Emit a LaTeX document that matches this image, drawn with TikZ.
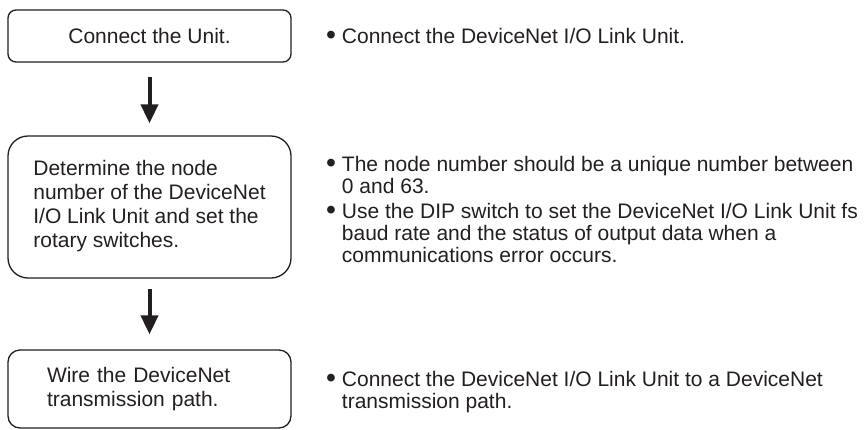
\documentclass[tikz,border=0pt]{standalone}
\usepackage{fontspec}
\usepackage{graphicx}
\setmainfont{Liberation Sans}
\usetikzlibrary{arrows.meta}
\definecolor{ink}{HTML}{231F20}
\newcommand\mybul{\raisebox{-0.09em}{\scalebox{1.35}{•}}\ }
\newcommand\myind{\hphantom{\mybul}}
\begin{document}
\begin{tikzpicture}[x=1pt,y=-1pt,
  font=\fontsize{21}{24}\selectfont, text=ink,
  box/.style={draw=ink, line width=1.3pt, minimum width=283pt, inner sep=0pt},
  flow/.style={draw=ink, line width=4pt, -{Triangle[length=19pt,width=17pt]}},
  note/.style={anchor=base west, align=left, inner sep=0pt, font=\fontsize{21}{22}\selectfont}]
\useasboundingbox (0,0) rectangle (866,429);
\node[box, rounded corners=8pt, minimum height=52pt] (b1) at (149.5,36) {Connect the Unit.};
\node[box, rounded corners=20pt, minimum height=142pt, align=left] (b2) at (149.5,207)
  {Determine the node\\number of the DeviceNet\\I/O Link Unit and set the\\rotary switches.\\[-18pt]};
\node[box, rounded corners=12pt, minimum height=78pt, align=left, text width=205pt, inner xsep=39pt] (b3) at (149.5,389)
  {Wire the DeviceNet\\transmission path.};
\draw[flow, shorten <=14pt, shorten >=12pt] (b1) -- (b2);
\draw[flow, shorten <=10pt, shorten >=15pt] (b2) -- (b3);
\node[note] (n1) at (326,43) {\mybul Connect the DeviceNet I/O Link Unit.};
\node[note] (n2) at (326,193) {\mybul The node number should be a unique number between\\\myind 0 and 63.};
\node[note] (n3) at (326,262) {\mybul Use the DIP switch to set the DeviceNet I/O Link Unit fs\\\myind baud rate and the status of output data when a\\\myind communications error occurs.};
\node[note] (n4) at (326,408) {\mybul Connect the DeviceNet I/O Link Unit to a DeviceNet\\\myind transmission path.};
\end{tikzpicture}
\end{document}
